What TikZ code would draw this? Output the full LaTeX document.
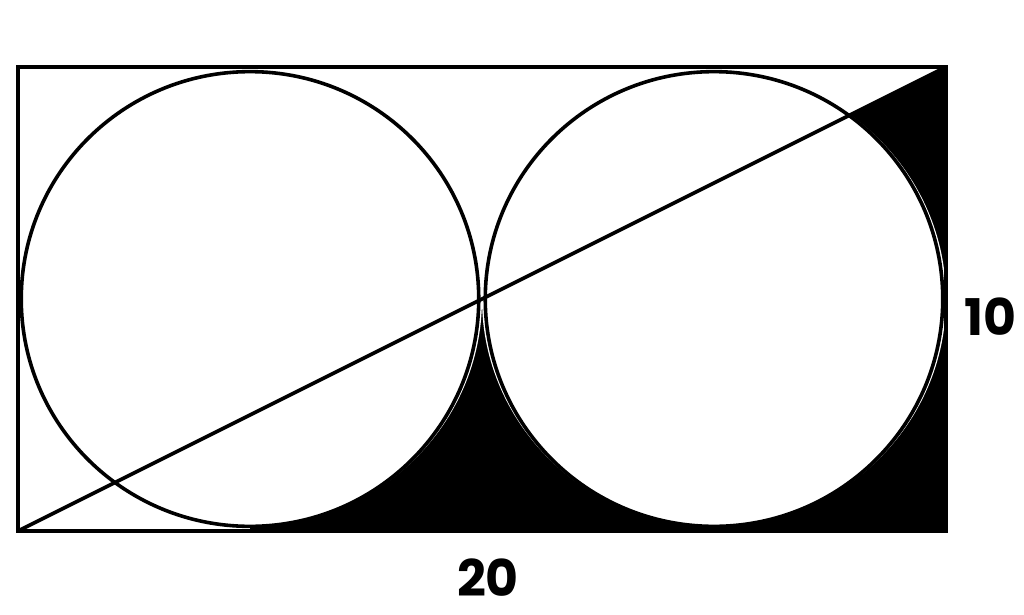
\documentclass[tikz,border=0pt]{standalone}
\usepackage{fontspec}
\setmainfont{Poppins}[BoldFont={* Bold}]
\begin{document}
\begin{tikzpicture}[x=1cm,y=1cm,
  edge/.style={line width=2.2pt,line join=miter},
  lbl/.style={font=\fontsize{31}{36}\selectfont\bfseries,inner sep=0pt}]
\useasboundingbox (-0.388,-1.79) rectangle (21.681,11.444);
% shaded region: below diagonal, right of left circle's foot
\begin{scope}
  \clip (5,0) -- (20,0) -- (20,10) -- (5,2.5) -- cycle;
  \fill[black] (0,0) rectangle (20,10);
  \fill[white] (5,5) ellipse [x radius=5, y radius=4.9];
  \fill[white] (15,5) ellipse [x radius=5, y radius=4.9];
\end{scope}
\coordinate (A) at (0,0);
\coordinate (B) at (20,0);
\coordinate (C) at (20,10);
\coordinate (D) at (0,10);
\coordinate (O1) at (5,5);
\coordinate (O2) at (15,5);
\draw[edge] (A) rectangle (C);
\draw[edge] (O1) ellipse [x radius=4.93, y radius=4.9];
\draw[edge] (O2) ellipse [x radius=4.93, y radius=4.9];
\draw[edge] (A) -- (C);
\node[lbl] (h) at (20.95,4.63) {10};
\node[lbl] (w) at (10.13,-1.01) {20};
\end{tikzpicture}
\end{document}
